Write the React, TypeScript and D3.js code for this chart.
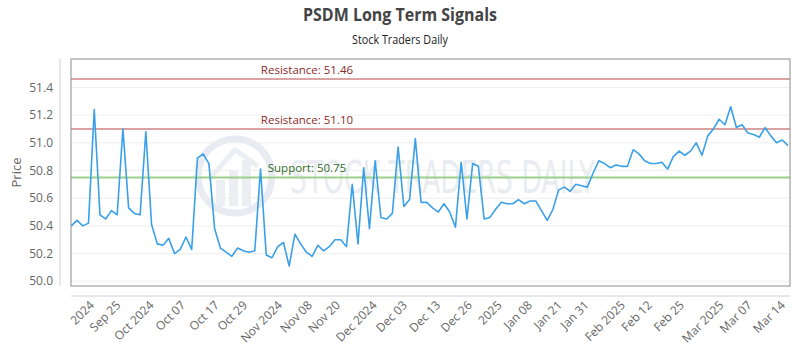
import React from "react";
import * as d3 from "d3";

const prices: number[] = [
  50.40, 50.44, 50.40, 50.42, 51.24, 50.48, 50.45, 50.51, 50.48, 51.10,
  50.53, 50.49, 50.48, 51.08, 50.41, 50.27, 50.26, 50.31, 50.20, 50.23,
  50.32, 50.23, 50.89, 50.92, 50.85, 50.38, 50.24, 50.21, 50.18, 50.24,
  50.22, 50.21, 50.22, 50.81, 50.19, 50.17, 50.25, 50.28, 50.11, 50.34,
  50.27, 50.21, 50.18, 50.26, 50.22, 50.25, 50.30, 50.30, 50.25, 50.70,
  50.27, 50.82, 50.38, 50.87, 50.46, 50.45, 50.49, 50.97, 50.54, 50.59,
  51.03, 50.57, 50.57, 50.53, 50.50, 50.56, 50.50, 50.39, 50.86, 50.45,
  50.85, 50.83, 50.45, 50.46, 50.52, 50.57, 50.56, 50.56, 50.59, 50.56,
  50.58, 50.58, 50.51, 50.44, 50.52, 50.66, 50.68, 50.65, 50.70, 50.69,
  50.68, 50.78, 50.87, 50.85, 50.82, 50.84, 50.83, 50.83, 50.95, 50.92,
  50.87, 50.85, 50.85, 50.86, 50.81, 50.90, 50.94, 50.91, 50.94, 51.00,
  50.91, 51.05, 51.10, 51.17, 51.13, 51.26, 51.11, 51.13, 51.07, 51.06,
  51.04, 51.11, 51.05, 51.00, 51.02, 50.98,
];

const tickLabels: string[] = [
  "2024", "Sep 25", "Oct 2024", "Oct 07", "Oct 17", "Oct 29", "Nov 2024", "Nov 08",
  "Nov 20", "Dec 2024", "Dec 03", "Dec 13", "Dec 26", "2025", "Jan 08", "Jan 21",
  "Jan 31", "Feb 2025", "Feb 12", "Feb 25", "Mar 2025", "Mar 07", "Mar 14",
];
const tickIndex: number[] = [
  3.6, 8.2, 14.0, 19.5, 25.4, 30.3, 36.4, 41.6, 46.5, 52.9, 58.2, 64.0,
  69.5, 74.7, 80.0, 85.2, 89.9, 96.2, 100.9, 106.5, 113.4, 118.3, 124.1,
];

const yTicks: number[] = [50.0, 50.2, 50.4, 50.6, 50.8, 51.0, 51.2, 51.4];

const levelNames: string[] = ["Resistance", "Resistance", "Support"];
const levelValues: number[] = [51.46, 51.1, 50.75];

const title = "PSDM Long Term Signals";
const subtitle = "Stock Traders Daily";
const yTitle = "Price";
const watermark = "STOCK TRADERS DAILY";

export default function App() {
  const W = 800;
  const H = 350;
  const left = 71;
  const right = 790;
  const top = 59;
  const bottom = 286;

  const x = d3.scaleLinear().domain([0, prices.length - 1]).range([71.3, 788]);
  const y = d3.scaleLinear().domain([49.966, 51.605]).range([bottom, top]);

  const line = d3
    .line<number>()
    .x((_, i) => x(i))
    .y((d) => y(d));

  const levelColors = ["#8b2a2a", "#8b2a2a", "#2f6b1f"];
  const levelLineColors = ["#d9a3a3", "#d9a3a3", "#9ccf8c"];
  const labelX = 307;

  const font = "'Open Sans', 'DejaVu Sans', sans-serif";

  return (
    <svg
      width={W}
      height={H}
      style={{ position: "absolute", left: 0, top: 0, background: "#fff" }}
      fontFamily={font}
    >
      <rect x={0} y={0} width={W} height={H} fill="#fff" />
      <text
        x={400}
        y={21}
        textAnchor="middle"
        fontSize={18}
        fontWeight="bold"
        fill="#444"
        fontFamily="'Liberation Sans Narrow', 'Open Sans', sans-serif"
        textLength={194}
        lengthAdjust="spacingAndGlyphs"
      >
        {title}
      </text>
      <text
        x={400}
        y={44}
        textAnchor="middle"
        fontSize={12}
        fill="#222"
        fontFamily="'Liberation Sans Narrow', 'Open Sans', sans-serif"
        textLength={96}
        lengthAdjust="spacingAndGlyphs"
      >
        {subtitle}
      </text>

      <g>
        <circle cx={235} cy={176} r={37} fill="none" stroke="#e8ecf2" strokeWidth={7} />
        <rect x={216} y={180} width={9} height={26} fill="#ebeff3" />
        <rect x={229} y={170} width={9} height={36} fill="#ebeff3" />
        <rect x={242} y={160} width={9} height={46} fill="#ebeff3" />
        <path d="M210,178 L235,150 L258,166" fill="none" stroke="#ebeff3" strokeWidth={5} />
        <text
          x={290}
          y={193}
          fontSize={44}
          fill="#e9edf2"
          fontFamily="'Liberation Sans Narrow', 'DejaVu Sans', sans-serif"
          textLength={305}
          lengthAdjust="spacingAndGlyphs"
        >
          {watermark}
        </text>
      </g>

      {yTicks.map((t) => (
        <line key={t} x1={left} x2={right} y1={y(t)} y2={y(t)} stroke="#eeeeee" strokeWidth={1} />
      ))}

      {levelValues.map((v, i) => (
        <g key={i}>
          <line
            x1={left}
            x2={right}
            y1={y(v)}
            y2={y(v)}
            stroke={levelLineColors[i]}
            strokeWidth={2}
          />
          <text x={labelX} y={y(v) - 5} textAnchor="middle" fontSize={11.5} fill={levelColors[i]}>
            {`${levelNames[i]}: ${v.toFixed(2)}`}
          </text>
        </g>
      ))}

      <path d={line(prices) || ""} fill="none" stroke="#3aa0e8" strokeWidth={1.6} strokeLinejoin="round" />

      <rect x={left} y={top} width={right - left} height={bottom - top} fill="none" stroke="#8c8c8c" strokeWidth={1} />

      <line x1={60} x2={60} y1={top} y2={bottom} stroke="#d0d0d0" strokeWidth={1} />
      <line x1={left} x2={right} y1={296} y2={296} stroke="#d0d0d0" strokeWidth={1} />

      {yTicks.map((t) => (
        <text key={t} x={53} y={y(t)} dy="0.35em" textAnchor="end" fontSize={12} fill="#666">
          {t.toFixed(1)}
        </text>
      ))}
      <text
        transform={`translate(16,${(top + bottom) / 2}) rotate(-90)`}
        textAnchor="middle"
        dy="0.35em"
        fontSize={13}
        fill="#666"
      >
        {yTitle}
      </text>

      {tickLabels.map((lab, i) => (
        <text
          key={lab}
          transform={`translate(${x(tickIndex[i])},303) rotate(-45)`}
          textAnchor="end"
          dy="0.35em"
          fontSize={12}
          fill="#666"
        >
          {lab}
        </text>
      ))}
    </svg>
  );
}
